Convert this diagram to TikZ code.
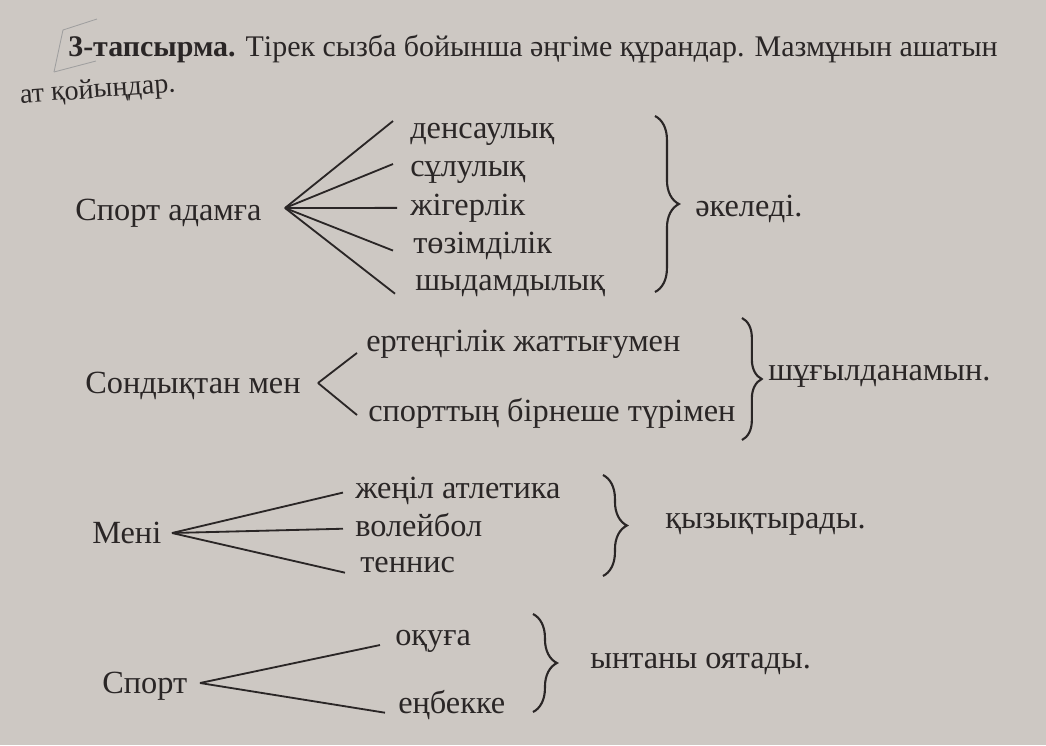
\documentclass[tikz,border=0pt]{standalone}
\usepackage{fontspec}
\setmainfont{Liberation Serif}
\usetikzlibrary{calc,decorations.pathreplacing}

\definecolor{paper}{RGB}{205,200,195}
\definecolor{ink}{RGB}{42,38,38}

\tikzset{
  word/.style={anchor=mid west, inner sep=0pt, yshift=-3.5pt, text=ink, font=\fontsize{23}{28}\selectfont},
  spoke/.style={draw=ink, line width=1.3pt},
  curly/.style={draw=ink, line width=1.5pt, decorate, decoration={brace, amplitude=#1}},
  curly/.default=16pt,
}

\begin{document}
\begin{tikzpicture}[x=0.025cm, y=-0.025cm]
  % page
  \fill[paper] (0,0) rectangle (1046,745);
  \useasboundingbox (0,0) rectangle (1046,745);

  % task heading
  \node (task) [word, font=\fontsize{21.3}{25}\selectfont] at (68,48)
    {\textbf{3-тапсырма.} Тірек сызба бойынша әңгіме құрандар. Мазмұнын ашатын};
  \node (task2) [word, font=\fontsize{20}{24}\selectfont, rotate=4] at (20,95) {ат қойыңдар.};
  \draw[gray!75, line width=0.6pt] (54,72) -- (63,30) -- (97,19);
  \draw[gray!75, line width=0.6pt] (54,72) -- (96,61);

  % first scheme
  \node (src1) [word] at (75,212) {Спорт адамға};
  \node (a1) [word] at (410,130) {денсаулық};
  \node (a2) [word] at (410,168) {сұлулық};
  \node (a3) [word] at (410,207) {жігерлік};
  \node (a4) [word] at (413,245) {төзімділік};
  \node (a5) [word] at (415,282) {шыдамдылық};
  \node (r1) [word] at (695,208) {әкеледі.};
  \coordinate (h1) at (285,208);
  \draw[spoke] (h1) -- ($(a1.west)+(-17,-13)$);
  \draw[spoke] (h1) -- ($(a2.west)+(-17,-8)$);
  \draw[spoke] (h1) -- ($(a3.west)+(-13,0)$);
  \draw[spoke] (h1) -- ($(a4.west)+(-20,5)$);
  \draw[spoke] (h1) -- ($(a5.west)+(-20,8)$);
  \coordinate (k1a) at (655,116);
  \coordinate (k1b) at (655,292);
  \draw[curly=17pt] (k1a) -- (k1b);

  % second scheme
  \node (src2) [word] at (85,385) {Сондықтан мен};
  \node (b1) [word] at (366,343) {ертеңгілік жаттығумен};
  \node (b2) [word] at (368,413) {спорттың бірнеше түрімен};
  \node (r2) [word] at (768,372) {шұғылданамын.};
  \coordinate (h2) at (318,383);
  \draw[spoke] (h2) -- ($(b1.west)+(-9,9)$);
  \draw[spoke] (h2) -- ($(b2.west)+(-11,2)$);
  \coordinate (k2a) at (742,318);
  \coordinate (k2b) at (742,440);
  \draw[curly=14pt] (k2a) -- (k2b);

  % third scheme
  \node (src3) [word] at (92,535) {Мені};
  \node (c1) [word] at (355,490) {жеңіл атлетика};
  \node (c2) [word] at (355,528) {волейбол};
  \node (c3) [word] at (360,564) {теннис};
  \node (r3) [word] at (665,520) {қызықтырады.};
  \coordinate (h3) at (172,533);
  \draw[spoke] (h3) -- ($(c1.west)+(-12,2)$);
  \draw[spoke] (h3) -- ($(c2.west)+(-12,4)$);
  \draw[spoke] (h3) -- ($(c3.west)+(-15,8)$);
  \coordinate (k3a) at (603,475);
  \coordinate (k3b) at (603,576);
  \draw[curly=17pt] (k3a) -- (k3b);

  % fourth scheme
  \node (src4) [word] at (102,685) {Спорт};
  \node (d1) [word] at (395,637) {оқуға};
  \node (d2) [word] at (398,705) {еңбекке};
  \node (r4) [word] at (590,660) {ынтаны оятады.};
  \coordinate (h4) at (200,683);
  \draw[spoke] (h4) -- ($(d1.west)+(-15,4)$);
  \draw[spoke] (h4) -- ($(d2.west)+(-13,8)$);
  \coordinate (k4a) at (533,614);
  \coordinate (k4b) at (533,712);
  \draw[curly=17pt] (k4a) -- (k4b);
\end{tikzpicture}
\end{document}
